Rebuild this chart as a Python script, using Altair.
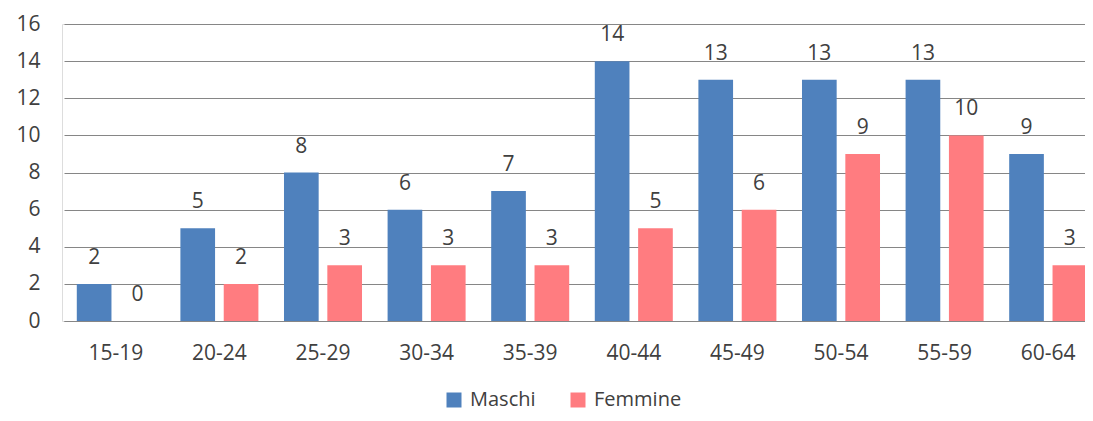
import altair as alt
import pandas as pd

categories = ["15-19", "20-24", "25-29", "30-34", "35-39", "40-44", "45-49", "50-54", "55-59", "60-64"]
maschi = [2, 5, 8, 6, 7, 14, 13, 13, 13, 9]
femmine = [0, 2, 3, 3, 3, 5, 6, 9, 10, 3]
series = ["Maschi", "Femmine"]
colors = ["#4F81BD", "#FF7C80"]

rows = []
for c, m, f in zip(categories, maschi, femmine):
    rows.append({"cat": c, "serie": "Maschi", "val": m})
    rows.append({"cat": c, "serie": "Femmine", "val": f})
df = pd.DataFrame(rows)

FONT = "Open Sans"
TXT = "#404040"

x = alt.X("cat:N", sort=categories, title=None,
          scale=alt.Scale(range=[2, 1038], paddingInner=0.247, paddingOuter=0.1235),
          axis=alt.Axis(labelAngle=0, ticks=False, domain=True, domainColor="#868686",
                        labelFont=FONT, labelFontSize=21, labelColor=TXT,
                        labelPadding=21, grid=False))
xo = alt.XOffset("serie:N", sort=series, scale=alt.Scale(paddingInner=0.2, paddingOuter=0))
y = alt.Y("val:Q", title=None,
          scale=alt.Scale(domain=[0, 16]),
          axis=alt.Axis(values=list(range(0, 17, 2)), ticks=False, domain=False,
                        gridColor="#868686", gridWidth=1,
                        labelFont=FONT, labelFontSize=21, labelColor=TXT,
                        labelPadding=22))

color = alt.Color("serie:N", sort=series,
                  scale=alt.Scale(domain=series, range=colors),
                  legend=alt.Legend(title=None, orient="none", direction="horizontal",
                                    legendX=382, legendY=366, symbolType="square",
                                    symbolSize=225, symbolStrokeWidth=0, labelFont=FONT,
                                    labelFontSize=20, labelColor=TXT,
                                    labelOffset=6, columnPadding=32))

bars = alt.Chart(df).mark_bar().encode(x=x, xOffset=xo, y=y, color=color)
labels = alt.Chart(df).mark_text(font=FONT, fontSize=21, color=TXT,
                                 baseline="middle", dy=-26).encode(
    x=x, xOffset=xo, y=y, text="val:Q")

chart = (bars + labels).properties(
    width=1023, height=297,
    autosize=alt.AutoSizeParams(type="none"),
    padding={"left": 54, "top": 16, "right": 0, "bottom": 92},
).configure_view(stroke=None).configure(background="white")

chart.save("out.html", embed_options={"renderer": "svg", "actions": False})
